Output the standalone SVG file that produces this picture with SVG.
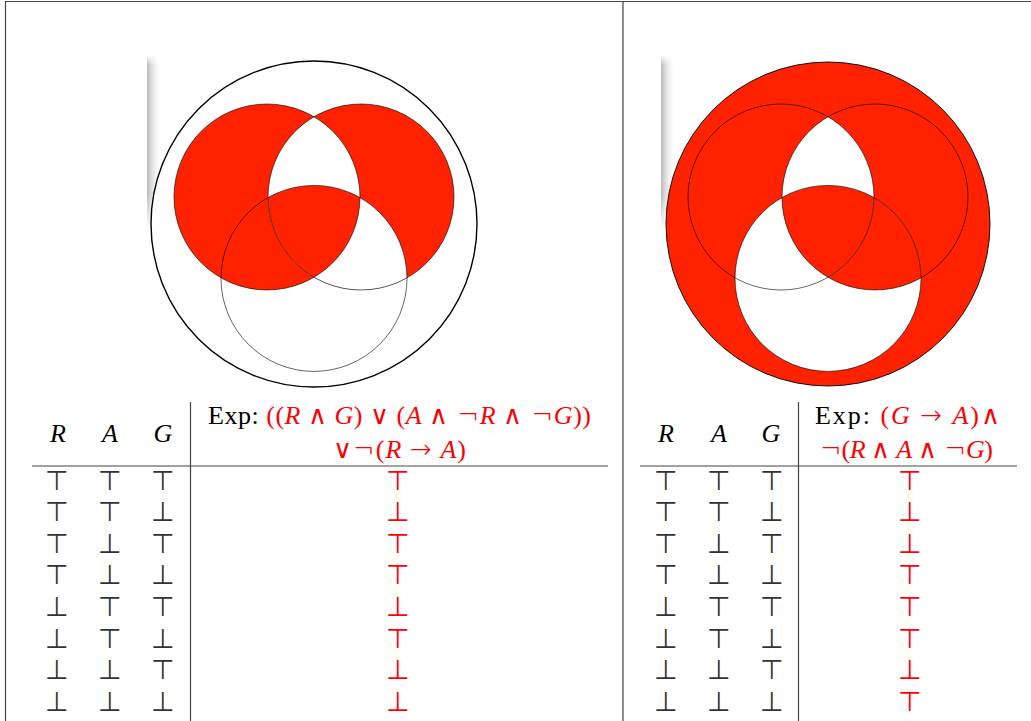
<svg xmlns="http://www.w3.org/2000/svg" width="1031" height="721" viewBox="0 0 1031 721">
<style>
.txt{font-family:"Liberation Serif","DejaVu Serif",serif;font-size:26px;fill:#000}
.red{fill:#ff0000}
.it{font-style:italic}
.op{font-family:"DejaVu Sans",sans-serif;font-weight:200}
.sym{font-family:"DejaVu Sans",sans-serif;font-weight:200;font-size:27px;text-anchor:middle;fill:#333}
.symr{font-family:"DejaVu Sans",sans-serif;font-weight:200;font-size:27px;text-anchor:middle;fill:#ff0000}
.rule{stroke:#444;stroke-width:1.2;fill:none}
.thin{fill:none;stroke:#000;stroke-width:0.6}
</style>
<defs>
<linearGradient id="shx" x1="0" y1="0" x2="1" y2="0">
<stop offset="0" stop-color="#b8b8b8"/>
<stop offset="1" stop-color="#ffffff" stop-opacity="0"/>
</linearGradient>
<linearGradient id="shy" x1="0" y1="0" x2="0" y2="1">
<stop offset="0" stop-color="#fff" stop-opacity="0"/>
<stop offset="0.06" stop-color="#fff" stop-opacity="1"/>
<stop offset="0.8" stop-color="#fff" stop-opacity="1"/>
<stop offset="1" stop-color="#fff" stop-opacity="0"/>
</linearGradient>
<mask id="shm" maskContentUnits="objectBoundingBox">
<rect x="0" y="0" width="1" height="1" fill="url(#shy)"/>
</mask>
<clipPath id="L1"><circle cx="267" cy="197" r="93"/></clipPath>
<clipPath id="L2"><circle cx="361" cy="197" r="93"/></clipPath>
<clipPath id="R1"><circle cx="781" cy="197" r="93"/></clipPath>
<clipPath id="R2"><circle cx="875" cy="197" r="93"/></clipPath>
</defs>
<rect width="1031" height="721" fill="#fff"/>

<g id="frame" class="rule">
<line x1="5" y1="1.5" x2="1031" y2="1.5"/>
<line x1="5.5" y1="1" x2="5.5" y2="721"/>
<line x1="623" y1="1" x2="623" y2="721"/>
</g>

<g id="venn-left">
<rect x="147" y="55" width="15" height="175" fill="url(#shx)" mask="url(#shm)"/>
<circle cx="314" cy="224" r="163" fill="#fff" stroke="#000" stroke-width="1.4"/>
<circle cx="267" cy="197" r="93" fill="#ff2200"/>
<circle cx="361" cy="197" r="93" fill="#ff2200"/>
<circle cx="361" cy="197" r="93" fill="#fff" clip-path="url(#L1)"/>
<circle cx="314" cy="278.4" r="93" fill="#fff" clip-path="url(#L2)"/>
<g clip-path="url(#L1)"><circle cx="314" cy="278.4" r="93" fill="#ff2200" clip-path="url(#L2)"/></g>
<circle class="thin" cx="267" cy="197" r="93"/>
<circle class="thin" cx="361" cy="197" r="93"/>
<circle class="thin" cx="314" cy="278.4" r="93"/>
</g>

<g id="venn-right">
<rect x="661" y="55" width="15" height="175" fill="url(#shx)" mask="url(#shm)"/>
<circle cx="828" cy="224" r="162" fill="#ff2200" stroke="#000" stroke-width="0.9"/>
<circle cx="828" cy="278.4" r="93" fill="#fff"/>
<circle cx="828" cy="278.4" r="93" fill="#ff2200" clip-path="url(#R2)"/>
<circle cx="875" cy="197" r="93" fill="#fff" clip-path="url(#R1)"/>
<g clip-path="url(#R1)"><circle cx="828" cy="278.4" r="93" fill="#ff2200" clip-path="url(#R2)"/></g>
<circle class="thin" cx="781" cy="197" r="93"/>
<circle class="thin" cx="875" cy="197" r="93"/>
<circle class="thin" cx="828" cy="278.4" r="93"/>
</g>

<g id="table-left">
<g class="rule">
<line x1="32" y1="466" x2="608" y2="466"/>
<line x1="190.5" y1="402" x2="190.5" y2="721"/>
</g>
<text class="txt it" x="58" y="442" text-anchor="middle">R</text>
<text class="txt it" x="110" y="442" text-anchor="middle">A</text>
<text class="txt it" x="163" y="442" text-anchor="middle">G</text>
<text class="txt" x="208" y="424" textLength="383" lengthAdjust="spacing">Exp: <tspan class="red">((<tspan class="it">R</tspan> <tspan class="op">∧</tspan> <tspan class="it">G</tspan>) <tspan class="op">∨</tspan> (<tspan class="it">A</tspan> <tspan class="op">∧ ¬</tspan><tspan class="it">R</tspan> <tspan class="op">∧ ¬</tspan><tspan class="it">G</tspan>))</tspan></text>
<text class="txt red" x="333" y="458" textLength="133" lengthAdjust="spacing"><tspan class="op">∨¬</tspan>(<tspan class="it">R</tspan> <tspan class="op">→</tspan> <tspan class="it">A</tspan>)</text>
<g>
<text class="sym" x="57" y="489.5">⊤</text><text class="sym" x="110" y="489.5">⊤</text><text class="sym" x="163" y="489.5">⊤</text><text class="symr" x="398" y="489.5">⊤</text>
<text class="sym" x="57" y="521.1">⊤</text><text class="sym" x="110" y="521.1">⊤</text><text class="sym" x="163" y="521.1">⊥</text><text class="symr" x="398" y="521.1">⊥</text>
<text class="sym" x="57" y="552.8">⊤</text><text class="sym" x="110" y="552.8">⊥</text><text class="sym" x="163" y="552.8">⊤</text><text class="symr" x="398" y="552.8">⊤</text>
<text class="sym" x="57" y="584.4">⊤</text><text class="sym" x="110" y="584.4">⊥</text><text class="sym" x="163" y="584.4">⊥</text><text class="symr" x="398" y="584.4">⊤</text>
<text class="sym" x="57" y="616">⊥</text><text class="sym" x="110" y="616">⊤</text><text class="sym" x="163" y="616">⊤</text><text class="symr" x="398" y="616">⊥</text>
<text class="sym" x="57" y="647.7">⊥</text><text class="sym" x="110" y="647.7">⊤</text><text class="sym" x="163" y="647.7">⊥</text><text class="symr" x="398" y="647.7">⊤</text>
<text class="sym" x="57" y="679.3">⊥</text><text class="sym" x="110" y="679.3">⊥</text><text class="sym" x="163" y="679.3">⊤</text><text class="symr" x="398" y="679.3">⊥</text>
<text class="sym" x="57" y="711">⊥</text><text class="sym" x="110" y="711">⊥</text><text class="sym" x="163" y="711">⊥</text><text class="symr" x="398" y="711">⊥</text>
</g>
</g>

<g id="table-right">
<g class="rule">
<line x1="640" y1="466" x2="1017" y2="466"/>
<line x1="798.5" y1="402" x2="798.5" y2="721"/>
</g>
<text class="txt it" x="666" y="442" text-anchor="middle">R</text>
<text class="txt it" x="719" y="442" text-anchor="middle">A</text>
<text class="txt it" x="771" y="442" text-anchor="middle">G</text>
<text class="txt" x="815" y="424" textLength="185" lengthAdjust="spacing">Exp: <tspan class="red">(<tspan class="it">G</tspan> <tspan class="op">→</tspan> <tspan class="it">A</tspan>)<tspan class="op">∧</tspan></tspan></text>
<text class="txt red" x="820" y="458" textLength="173" lengthAdjust="spacing"><tspan class="op">¬</tspan>(<tspan class="it">R</tspan> <tspan class="op">∧</tspan> <tspan class="it">A</tspan> <tspan class="op">∧ ¬</tspan><tspan class="it">G</tspan>)</text>
<g>
<text class="sym" x="666" y="489.5">⊤</text><text class="sym" x="719" y="489.5">⊤</text><text class="sym" x="772" y="489.5">⊤</text><text class="symr" x="910" y="489.5">⊤</text>
<text class="sym" x="666" y="521.1">⊤</text><text class="sym" x="719" y="521.1">⊤</text><text class="sym" x="772" y="521.1">⊥</text><text class="symr" x="910" y="521.1">⊥</text>
<text class="sym" x="666" y="552.8">⊤</text><text class="sym" x="719" y="552.8">⊥</text><text class="sym" x="772" y="552.8">⊤</text><text class="symr" x="910" y="552.8">⊥</text>
<text class="sym" x="666" y="584.4">⊤</text><text class="sym" x="719" y="584.4">⊥</text><text class="sym" x="772" y="584.4">⊥</text><text class="symr" x="910" y="584.4">⊤</text>
<text class="sym" x="666" y="616">⊥</text><text class="sym" x="719" y="616">⊤</text><text class="sym" x="772" y="616">⊤</text><text class="symr" x="910" y="616">⊤</text>
<text class="sym" x="666" y="647.7">⊥</text><text class="sym" x="719" y="647.7">⊤</text><text class="sym" x="772" y="647.7">⊥</text><text class="symr" x="910" y="647.7">⊤</text>
<text class="sym" x="666" y="679.3">⊥</text><text class="sym" x="719" y="679.3">⊥</text><text class="sym" x="772" y="679.3">⊤</text><text class="symr" x="910" y="679.3">⊥</text>
<text class="sym" x="666" y="711">⊥</text><text class="sym" x="719" y="711">⊥</text><text class="sym" x="772" y="711">⊥</text><text class="symr" x="910" y="711">⊤</text>
</g>
</g>
</svg>
